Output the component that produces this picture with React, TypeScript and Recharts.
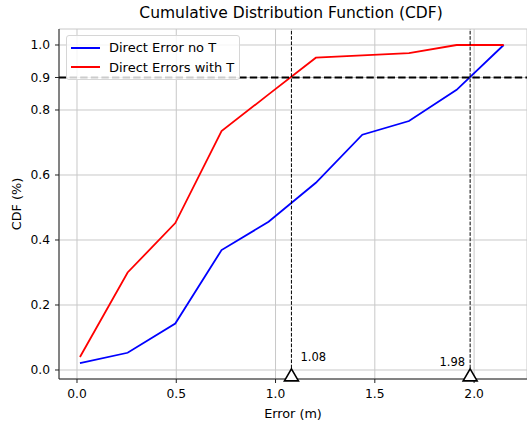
import {
  ComposedChart,
  Line,
  XAxis,
  YAxis,
  CartesianGrid,
  ReferenceLine,
  ReferenceDot,
  Legend,
} from 'recharts';

// error values (m) shared by both curves
const errors = [0.015, 0.255, 0.495, 0.728, 0.965, 1.203, 1.437, 1.672, 1.912, 2.149];
const cdfNoT = [0.021, 0.053, 0.143, 0.369, 0.456, 0.576, 0.724, 0.766, 0.862, 1.0];
const cdfWithT = [0.04, 0.3, 0.452, 0.735, 0.848, 0.961, 0.968, 0.975, 1.0, 1.0];

const xTicks = [0, 0.5, 1.0, 1.5, 2.0];
const yTicks = [0, 0.2, 0.4, 0.6, 0.8, 0.9, 1.0];

const targetLevel = 0.9;
const crossErrors = [1.08, 1.98];
const crossLabels = ['1.08', '1.98'];
const markerLevel = -0.015;

const FONT = '"DejaVu Sans", sans-serif';

const data = errors.map((e, i) => ({ error: e, noT: cdfNoT[i], withT: cdfWithT[i] }));

function LegendBox({ payload }: any) {
  return (
    <div
      style={{
        background: 'rgba(255,255,255,0.8)',
        border: '1px solid #d6d6d6',
        borderRadius: 3,
        padding: '2px 0',
        width: 172,
        fontFamily: FONT,
        fontSize: 13,
        color: '#000',
        whiteSpace: 'nowrap',
      }}
    >
      {(payload || []).map((p: any) => (
        <div key={p.value} style={{ display: 'flex', alignItems: 'center', height: 19.5 }}>
          <div style={{ width: 29, height: 2, background: p.color, marginLeft: 4, marginRight: 9 }} />
          <span>{p.value}</span>
        </div>
      ))}
    </div>
  );
}

function YLabel({ viewBox }: any) {
  const cy = viewBox.y + viewBox.height / 2;
  return (
    <text
      x={21}
      y={cy}
      transform={`rotate(-90, 21, ${cy})`}
      textAnchor="middle"
      fontFamily={FONT}
      fontSize={12.8}
      fill="#000"
    >
      CDF (%)
    </text>
  );
}

function makeMarker(i: number) {
  return (props: any) => {
    const { cx, cy } = props;
    const right = i === 0;
    return (
      <g>
        <path
          d={`M${cx},${cy - 6} L${cx + 7},${cy + 6} L${cx - 7},${cy + 6} Z`}
          fill="#fff"
          stroke="#000"
          strokeWidth={1.6}
        />
        <text
          x={right ? cx + 9 : cx - 5}
          y={right ? cy - 13.5 : cy - 9}
          textAnchor={right ? 'start' : 'end'}
          fontFamily={FONT}
          fontSize={11.5}
          fill="#000"
        >
          {crossLabels[i]}
        </text>
      </g>
    );
  };
}

export default function App() {
  return (
    <div style={{ position: 'absolute', left: 0, top: 0, width: 527, height: 421, background: '#fff' }}>
      <div
        style={{
          position: 'absolute',
          left: 59,
          width: 464,
          top: 4,
          textAlign: 'center',
          fontFamily: FONT,
          fontSize: 15.5,
          color: '#000',
          whiteSpace: 'nowrap',
        }}
      >
        Cumulative Distribution Function (CDF)
      </div>
      <ComposedChart
        width={527}
        height={421}
        data={data}
        margin={{ top: 29, right: 0, bottom: 0, left: 0 }}
      >
        <CartesianGrid stroke="#c8c8c8" strokeWidth={1} />
        <XAxis
          xAxisId="top"
          orientation="top"
          dataKey="error"
          type="number"
          domain={[-0.0906, 2.2664]}
          height={0}
          tick={false}
          tickLine={false}
          axisLine={{ stroke: '#222', strokeWidth: 1 }}
        />
        <XAxis
          dataKey="error"
          type="number"
          domain={[-0.0906, 2.2664]}
          ticks={xTicks}
          tickFormatter={(v: number) => v.toFixed(1)}
          height={42}
          tickSize={4}
          tickMargin={6}
          tick={{ fontFamily: FONT, fontSize: 12.3, fill: '#000' }}
          tickLine={{ stroke: '#222' }}
          axisLine={{ stroke: '#222', strokeWidth: 1 }}
          label={{ value: 'Error (m)', position: 'insideBottom', offset: 3, fontFamily: FONT, fontSize: 12.8, fill: '#000' }}
        />
        <YAxis
          type="number"
          domain={[-0.0277, 1.0492]}
          ticks={yTicks}
          tickFormatter={(v: number) => v.toFixed(1)}
          width={59}
          tickSize={4}
          tickMargin={5}
          tick={{ fontFamily: FONT, fontSize: 12.3, fill: '#000' }}
          tickLine={{ stroke: '#222' }}
          axisLine={{ stroke: '#222', strokeWidth: 1 }}
          label={{ content: <YLabel /> }}
        />
        <Legend
          layout="vertical"
          align="center"
          verticalAlign="middle"
          wrapperStyle={{ left: 66, top: 35, width: 174 }}
          content={<LegendBox />}
        />
        <Line
          dataKey="noT"
          name="Direct Error no T"
          stroke="#0000ff"
          strokeWidth={1.8}
          dot={false}
          activeDot={false}
          isAnimationActive={false}
        />
        <Line
          dataKey="withT"
          name="Direct Errors with T"
          stroke="#ff0000"
          strokeWidth={1.8}
          dot={false}
          activeDot={false}
          isAnimationActive={false}
        />
        <ReferenceLine y={targetLevel} stroke="#000" strokeWidth={2} strokeDasharray="7.4 3.2" />
        {crossErrors.map((e) => (
          <ReferenceLine key={'v' + e} x={e} stroke="#000" strokeWidth={1} strokeDasharray="3.7 1.6" />
        ))}
        {crossErrors.map((e, i) => (
          <ReferenceDot key={'m' + e} x={e} y={markerLevel} r={7} ifOverflow="visible" shape={makeMarker(i)} />
        ))}
      </ComposedChart>
    </div>
  );
}
